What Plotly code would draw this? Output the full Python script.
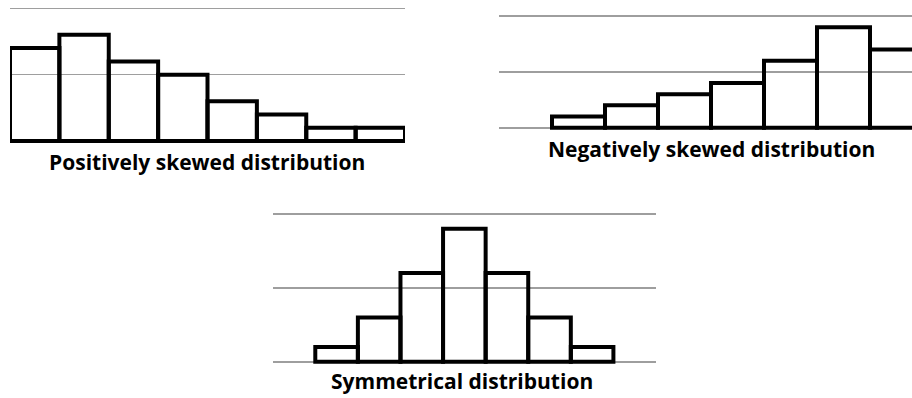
import plotly.graph_objects as go

# ---- data ----
pos_bins = ["1", "2", "3", "4", "5", "6", "7", "8"]
pos_values = [14, 16, 12, 10, 6, 4, 2, 2]

neg_bins = ["1", "2", "3", "4", "5", "6", "7", "8", "9"]
neg_values = [None, 2, 4, 6, 8, 12, 18, 14, None]

sym_bins = ["1", "2", "3", "4", "5", "6", "7", "8", "9"]
sym_values = [None, 2, 6, 12, 18, 12, 6, 2, None]

titles = ["Positively skewed distribution",
          "Negatively skewed distribution",
          "Symmetrical distribution"]

W, H = 912, 398
GRID = "#9e9e9e"
FONT = "Open Sans"
YMAX = 20
PADPX = 3  # small pixel padding so the 0 and 20 gridlines are drawn


def bar(x, y, xa, ya):
    return go.Bar(
        x=x, y=y, xaxis=xa, yaxis=ya,
        marker=dict(color="rgba(0,0,0,0)", line=dict(color="black", width=4)),
        showlegend=False, hoverinfo="skip",
    )


fig = go.Figure()
fig.add_trace(bar(pos_bins, pos_values, "x", "y"))
fig.add_trace(bar(neg_bins, neg_values, "x2", "y2"))
fig.add_trace(bar(sym_bins, sym_values, "x3", "y3"))


def px_x(p):
    return p / W


def px_y(p):
    return (H - p) / H


def yaxis_geo(base_px, top_px):
    """domain and range so that 0 sits at base_px and YMAX at top_px (page px)"""
    per = YMAX / (base_px - top_px)  # units per pixel
    lo_px = base_px + PADPX
    hi_px = max(0, top_px - PADPX)
    rng = [-(lo_px - base_px) * per, YMAX + (top_px - hi_px) * per]
    return dict(domain=[px_y(lo_px), px_y(hi_px)], range=rng)


xcommon = dict(type="category", showgrid=False, showticklabels=False,
               ticks="", showline=False, zeroline=False, fixedrange=True)
ycommon = dict(tickvals=[0, 10, 20], showgrid=True,
               gridcolor=GRID, gridwidth=1.6, zeroline=False, showline=False,
               showticklabels=False, ticks="", fixedrange=True)

# negatively skewed panel: 53 px slots from x=499, cut by the right edge of the image
neg_visible = (912 - 499) / 53.0

fig.update_layout(
    width=W, height=H,
    margin=dict(l=0, r=0, t=0, b=0),
    paper_bgcolor="white", plot_bgcolor="rgba(0,0,0,0)",
    bargap=0,
    xaxis=dict(domain=[px_x(10), px_x(405)], range=[-0.5, len(pos_bins) - 0.5], **xcommon),
    yaxis=dict(anchor="x", **yaxis_geo(141, 8.3), **ycommon),
    xaxis2=dict(domain=[px_x(499), 1.0], range=[-0.5, -0.5 + neg_visible], anchor="y2", **xcommon),
    yaxis2=dict(anchor="x2", **yaxis_geo(127.7, 16), **ycommon),
    xaxis3=dict(domain=[px_x(272.7), px_x(656)], range=[-0.5, len(sym_bins) - 0.5], anchor="y3", **xcommon),
    yaxis3=dict(anchor="x3", **yaxis_geo(361.7, 214), **ycommon),
    font=dict(family=FONT, color="black"),
)

title_pos = [(207, 162), (711, 148.5), (461.7, 381)]
for t, (cx, cy) in zip(titles, title_pos):
    fig.add_annotation(text="<b>" + t + "</b>", x=px_x(cx), y=px_y(cy),
                       xref="paper", yref="paper", xanchor="center", yanchor="middle",
                       showarrow=False, font=dict(family=FONT, size=21, color="black"))

# remove the browser's default 8px body margin so the figure fills the window exactly
fig.write_html("out.html",
               config={"displayModeBar": False, "staticPlot": True},
               post_script="document.body.style.margin='0';document.body.style.overflow='hidden';")
